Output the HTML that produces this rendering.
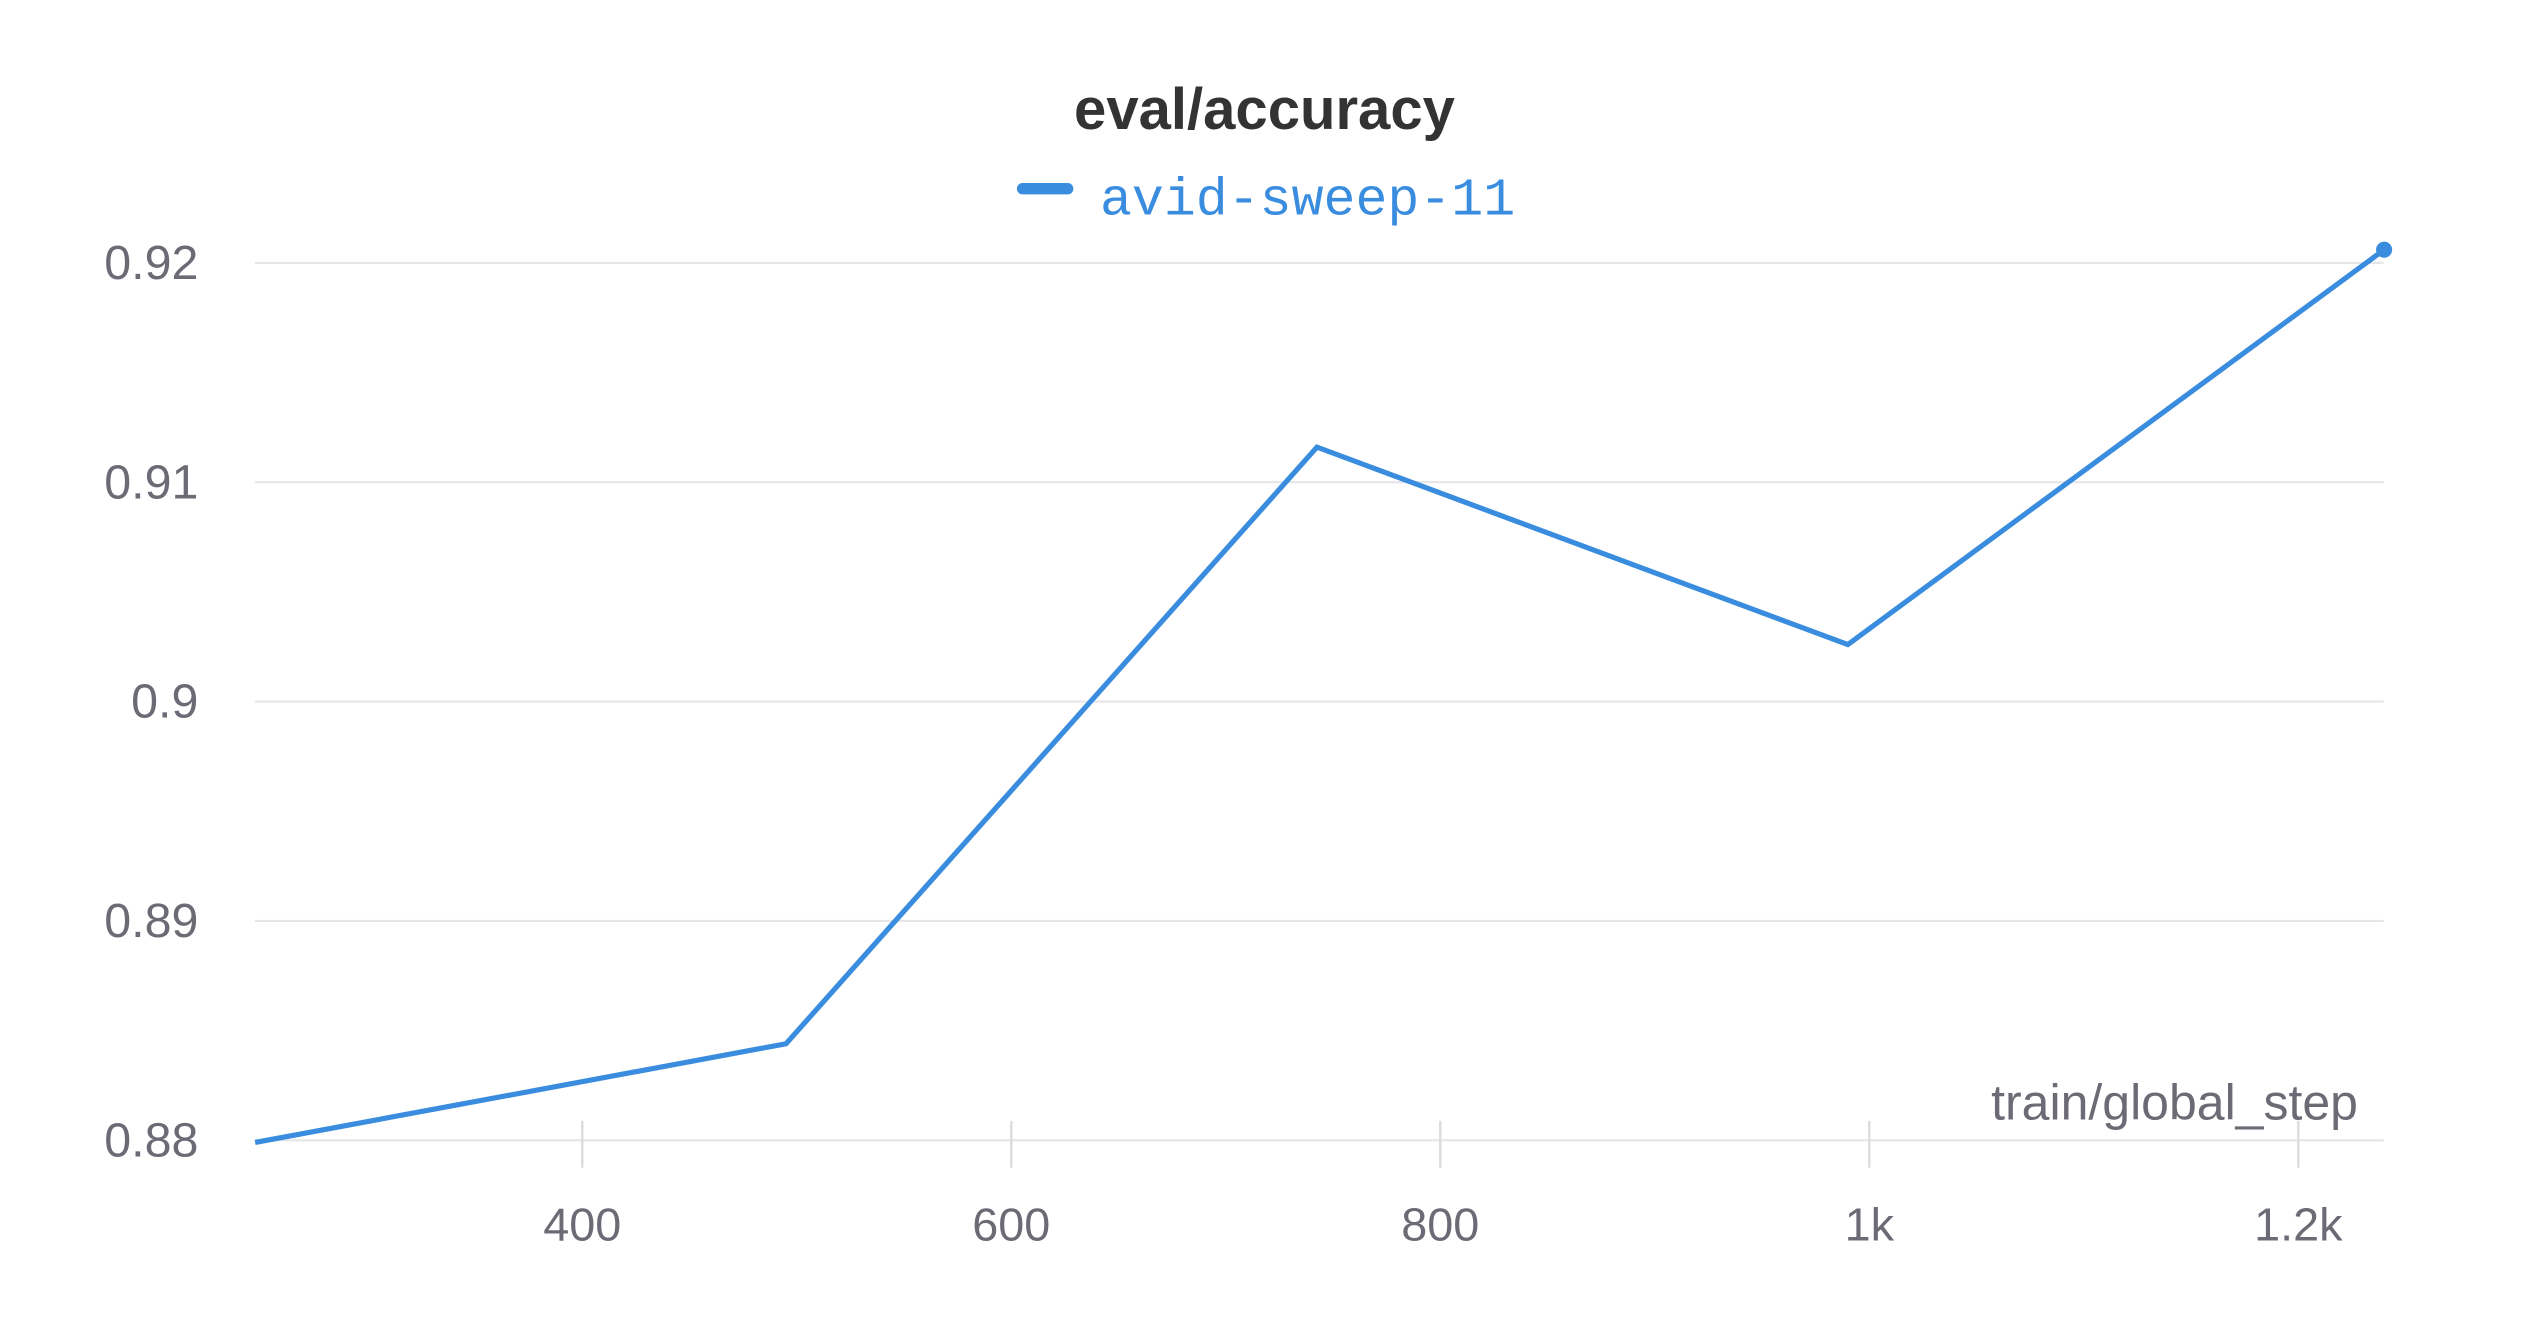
<!DOCTYPE html>
<html><head><meta charset="utf-8"><style>
html,body{margin:0;padding:0;background:#fff;}
svg{display:block;}
</style></head><body>
<svg id="chart" width="2528" height="1328" viewBox="0 0 1567.4 823.4" xmlns="http://www.w3.org/2000/svg">
<text x="784" y="80" text-anchor="middle" font-family="Liberation Sans, sans-serif" font-weight="bold" font-size="36" fill="#333">eval/accuracy</text>
<g>
<line x1="634" y1="117" x2="662" y2="117" stroke="#3a8dde" stroke-width="7" stroke-linecap="round"/>
<text x="682" y="133" font-family="Liberation Mono, monospace" font-size="33" fill="#3a8dde">avid-sweep-11</text>
</g>
<g id="grid"></g>
<g id="yticks"></g>
<g id="xticks"></g>
<text x="1462" y="694" text-anchor="end" font-family="Liberation Sans, sans-serif" font-size="31" fill="#6b6b76">train/global_step</text>
<g id="series"></g>
</svg>
<script>
const steps = [247.5, 495, 742.5, 990, 1240];
const accuracy = [0.8799, 0.8844, 0.9116, 0.9026, 0.9206];
const yTicks = [0.88, 0.89, 0.9, 0.91, 0.92];
const yTickLabels = ["0.88", "0.89", "0.9", "0.91", "0.92"];
const xTicks = [400, 600, 800, 1000, 1200];
const xTickLabels = ["400", "600", "800", "1k", "1.2k"];

const NS = "http://www.w3.org/2000/svg";
const X0 = 158, X1 = 1478;
function xs(v){ return 361 + (v - 400) * (266/200); }
function ys(v){ return 707 - (v - 0.88) * 13600; }
function mk(tag, attrs, parent){ const e = document.createElementNS(NS, tag); for (const k in attrs) e.setAttribute(k, attrs[k]); parent.appendChild(e); return e; }

const grid = document.getElementById('grid');
const yg = document.getElementById('yticks');
yTicks.forEach((t, i) => {
  const l = mk('line', {x1: X0, x2: X1, y1: ys(t), y2: ys(t), stroke: '#e6e6e9', 'stroke-width': 1.3}, grid);
  
  
  const tx = mk('text', {x: 123, y: ys(t) + 10, 'text-anchor': 'end', 'font-family': 'Liberation Sans, sans-serif', 'font-size': 30, fill: '#6b6b76'}, yg);
  tx.textContent = yTickLabels[i];
  
  
});
const xg = document.getElementById('xticks');
xTicks.forEach((t, i) => {
  const l = mk('line', {x1: xs(t), x2: xs(t), y1: 695, y2: 724, stroke: '#dcdce0', 'stroke-width': 1.5}, xg);
  
  
  const tx = mk('text', {x: xs(t), y: 769, 'text-anchor': 'middle', 'font-family': 'Liberation Sans, sans-serif', 'font-size': 29, fill: '#6b6b76'}, xg);
  tx.textContent = xTickLabels[i];
  
  
});
const sg = document.getElementById('series');
const pts = steps.map((s, i) => xs(s) + ',' + ys(accuracy[i])).join(' ');
const pl = mk('polyline', {points: pts, fill: 'none', stroke: '#3a8dde', 'stroke-width': 3.2, 'stroke-linejoin': 'miter'}, sg);


const last = steps.length - 1;
const dot = mk('circle', {cx: xs(steps[last]), cy: ys(accuracy[last]), r: 5, fill: '#3a8dde'}, sg);


</script>
</body></html>
